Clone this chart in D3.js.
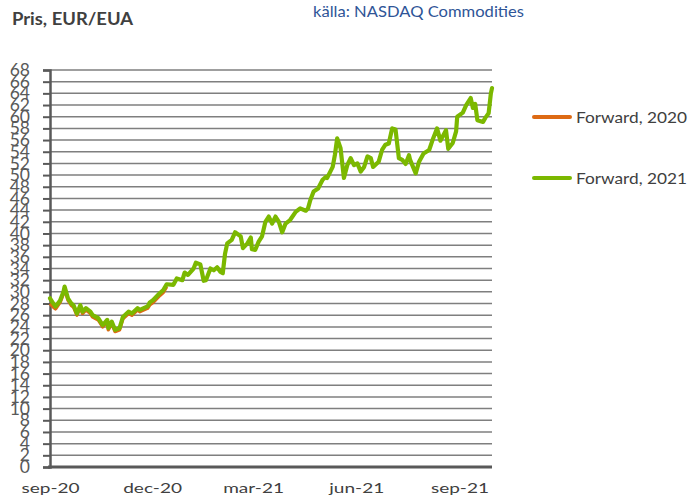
<!DOCTYPE html>
<html><head><meta charset="utf-8">
<script src="https://cdn.jsdelivr.net/npm/d3@7/dist/d3.min.js"></script>
<style>body{margin:0;background:#fff}svg{display:block}</style>
</head><body>
<svg id="c" width="700" height="501"></svg>
<script>
// ---- data ----
const title = "Pris, EUR/EUA";
const source = "källa: NASDAQ Commodities";
const seriesNames = ["Forward, 2020", "Forward, 2021"];
const xTickDates = ["2020-09-01", "2020-12-01", "2021-03-01", "2021-06-01", "2021-09-01"];
const xTickLabels = ["sep-20", "dec-20", "mar-21", "jun-21", "sep-21"];
const yTicks = d3.range(0, 69, 2);

const dates2020 = ["2020-09-01","2020-09-04","2020-09-06","2020-09-10","2020-09-13","2020-09-14","2020-09-17","2020-09-20","2020-09-22","2020-09-25","2020-09-28","2020-09-30","2020-10-03","2020-10-07","2020-10-09","2020-10-14","2020-10-18","2020-10-22","2020-10-23","2020-10-26","2020-10-29","2020-11-02","2020-11-05","2020-11-10","2020-11-13","2020-11-18","2020-11-20","2020-11-27","2020-11-29","2020-12-02","2020-12-08","2020-12-11","2020-12-14"];
const fwd2020 = [28.0,27.4,27.1,28.2,29.7,30.6,28.6,27.7,27.4,26.0,27.4,26.3,26.9,26.3,25.7,25.2,24.0,24.9,23.5,24.6,23.2,23.5,25.4,26.3,26.0,26.9,26.6,27.2,27.8,28.2,29.4,29.9,30.9];

const dates2021 = ["2020-09-01","2020-09-04","2020-09-06","2020-09-10","2020-09-13","2020-09-14","2020-09-17","2020-09-20","2020-09-22","2020-09-25","2020-09-28","2020-09-30","2020-10-03","2020-10-07","2020-10-09","2020-10-14","2020-10-18","2020-10-22","2020-10-23","2020-10-26","2020-10-29","2020-11-02","2020-11-05","2020-11-10","2020-11-13","2020-11-18","2020-11-20","2020-11-27","2020-11-29","2020-12-02","2020-12-08","2020-12-11","2020-12-14","2020-12-20","2020-12-23","2020-12-28","2020-12-30","2021-01-02","2021-01-07","2021-01-09","2021-01-13","2021-01-16","2021-01-18","2021-01-22","2021-01-25","2021-01-28","2021-01-31","2021-02-02","2021-02-04","2021-02-06","2021-02-10","2021-02-13","2021-02-18","2021-02-20","2021-02-24","2021-02-27","2021-02-28","2021-03-03","2021-03-06","2021-03-09","2021-03-12","2021-03-15","2021-03-18","2021-03-21","2021-03-24","2021-03-27","2021-03-30","2021-04-03","2021-04-08","2021-04-12","2021-04-17","2021-04-19","2021-04-21","2021-04-24","2021-04-28","2021-05-02","2021-05-05","2021-05-06","2021-05-11","2021-05-13","2021-05-15","2021-05-18","2021-05-21","2021-05-24","2021-05-27","2021-05-30","2021-06-02","2021-06-05","2021-06-08","2021-06-11","2021-06-14","2021-06-16","2021-06-21","2021-06-24","2021-06-27","2021-06-30","2021-07-03","2021-07-06","2021-07-09","2021-07-12","2021-07-15","2021-07-18","2021-07-19","2021-07-24","2021-07-27","2021-07-31","2021-08-05","2021-08-08","2021-08-12","2021-08-15","2021-08-20","2021-08-22","2021-08-26","2021-08-29","2021-08-30","2021-09-04","2021-09-07","2021-09-11","2021-09-13","2021-09-15","2021-09-17","2021-09-22","2021-09-24","2021-09-27","2021-09-29","2021-09-30"];
const fwd2021 = [28.9,28.0,27.5,28.5,30.0,30.9,28.9,28.0,27.7,26.3,27.7,26.6,27.2,26.6,26.0,25.5,24.3,25.2,23.8,24.9,23.5,23.8,25.7,26.6,26.3,27.2,26.9,27.5,28.2,28.6,29.8,30.3,31.3,31.2,32.3,32.0,33.3,32.9,34.0,35.0,34.7,31.9,32.0,34.0,33.7,34.2,33.4,33.2,36.5,38.3,38.9,40.2,39.5,37.5,38.3,39.3,37.3,37.2,38.6,39.5,42.0,42.9,41.7,42.9,42.0,40.2,41.7,42.3,43.7,44.3,43.9,44.3,45.7,47.2,47.7,49.2,49.7,49.5,51.4,53.5,56.3,54.6,49.5,51.7,52.9,51.7,52.0,50.6,51.4,53.2,52.9,51.4,52.3,54.3,55.2,55.4,58.0,57.8,52.9,52.6,51.9,53.4,52.6,50.3,52.3,53.7,54.3,56.0,58.0,55.9,57.7,54.5,55.5,57.5,60.0,60.7,62.0,63.2,61.5,62.2,59.4,59.1,59.8,60.6,64.0,64.9];

const colors = ["#DD6A14", "#7BB800"];

// ---- chart ----
const parse = d3.utcParse("%Y-%m-%d");
const svg = d3.select("#c");
const FONT = "Lato, 'Open Sans', sans-serif";

const x = d3.scaleUtc().domain([parse("2020-09-01"), parse("2021-09-30")]).range([50, 492]);
const y = d3.scaleLinear().domain([0, 68]).range([467, 70]);

// gridlines
svg.append("g").selectAll("line").data(yTicks.filter(v => v > 0)).join("line")
  .attr("x1", 50).attr("x2", 492)
  .attr("y1", d => y(d)).attr("y2", d => y(d))
  .attr("stroke", "#7f7f7f").attr("stroke-width", 1.5);

// y axis
const yAxis = svg.append("g").attr("transform", "translate(50,0)")
  .call(d3.axisLeft(y).tickValues(yTicks).tickSize(7).tickPadding(13).tickFormat(d3.format("d")));
yAxis.select(".domain").attr("stroke", "#595959").attr("stroke-width", 2.5);
yAxis.selectAll(".tick line").attr("stroke", "#595959").attr("stroke-width", 2);
yAxis.selectAll(".tick text").attr("font-family", FONT).attr("font-size", 17.5).attr("fill", "#595959");

// baseline
svg.append("line").attr("x1", 48).attr("x2", 492).attr("y1", y(0)).attr("y2", y(0))
  .attr("stroke", "#595959").attr("stroke-width", 2.8);

// x axis labels
const xAxis = svg.append("g").attr("transform", `translate(0,${y(0)})`)
  .call(d3.axisBottom(x).tickValues(xTickDates.map(parse)).tickSize(0).tickPadding(16)
    .tickFormat((d, i) => xTickLabels[i]));
xAxis.select(".domain").remove();
xAxis.selectAll(".tick text").attr("font-family", FONT).attr("font-size", 14).attr("fill", "#404040")
  .attr("transform", "scale(1.36,1)");

// lines
const line = d3.line().x(d => x(d[0])).y(d => y(d[1])).curve(d3.curveLinear);
const s2020 = dates2020.map((d, i) => [parse(d), fwd2020[i]]);
const s2021 = dates2021.map((d, i) => [parse(d), fwd2021[i]]);
svg.append("path").datum(s2020).attr("d", line).attr("fill", "none")
  .attr("stroke", colors[0]).attr("stroke-width", 3.5).attr("stroke-linejoin", "round");
svg.append("path").datum(s2021).attr("d", line).attr("fill", "none")
  .attr("stroke", colors[1]).attr("stroke-width", 4.2).attr("stroke-linejoin", "round").attr("stroke-linecap", "round");

// title + source
svg.append("text").attr("x", 12).attr("y", 25).text(title)
  .attr("font-family", FONT).attr("font-weight", "bold").attr("font-size", 16.5).attr("fill", "#404040")
  .attr("textLength", 121).attr("lengthAdjust", "spacingAndGlyphs");
svg.append("text").attr("x", 313).attr("y", 17).text(source)
  .attr("font-family", FONT).attr("font-size", 15).attr("fill", "#2F5597")
  .attr("textLength", 211).attr("lengthAdjust", "spacingAndGlyphs");

// legend
const legY = [117, 178];
const leg = svg.append("g").selectAll("g").data(seriesNames).join("g")
  .attr("transform", (d, i) => `translate(0,${legY[i]})`);
leg.append("line").attr("x1", 534).attr("x2", 570).attr("stroke", (d, i) => colors[i])
  .attr("stroke-width", 4).attr("stroke-linecap", "round");
leg.append("text").attr("x", 576).attr("y", 6).text(d => d)
  .attr("font-family", FONT).attr("font-size", 16).attr("fill", "#404040")
  .attr("textLength", 111).attr("lengthAdjust", "spacingAndGlyphs");
</script>
</body></html>
